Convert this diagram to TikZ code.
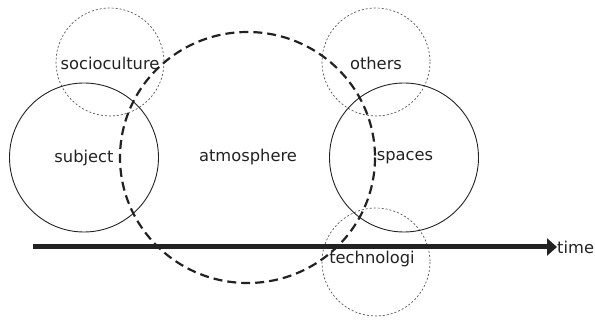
\documentclass[tikz,border=0pt]{standalone}
\usepackage{fontspec}
\setmainfont{DejaVu Sans}
\usetikzlibrary{arrows.meta}
\definecolor{ink}{HTML}{222222}
\definecolor{dotgray}{HTML}{555555}
\begin{document}
\begin{tikzpicture}[x=1pt,y=-1pt,
  lbl/.style={font=\fontsize{16.3}{18}\selectfont, text=ink, inner sep=0pt},
  solidcirc/.style={draw=ink, line width=0.9pt},
  dotcirc/.style={draw=dotgray, line width=0.7pt, dash pattern=on 2pt off 2pt},
  atmo/.style={draw=ink, line width=2.2pt, dash pattern=on 9pt off 5pt},
  timeline/.style={draw=ink, line width=5pt, -{Triangle[length=10pt,width=17pt]}}
]
\useasboundingbox (0,0) rectangle (595,320);
% circles
\draw[dotcirc] (110,62) circle (54);
\draw[dotcirc] (376,62) circle (54);
\draw[dotcirc] (376,262) circle (54);
\draw[solidcirc] (84,157.5) circle (74.5);
\draw[solidcirc] (404,157.5) circle (74.5);
\draw[atmo] (247.5,157.5) ellipse (127.5 and 125.5);
% timeline
\coordinate (tstart) at (33,247);
\node[lbl, anchor=west] (time) at (557,247) {time};
\draw[timeline] (tstart) -- (time.west);
% labels
\node[lbl] (socio) at (110,63) {socioculture};
\node[lbl] (subject) at (84,158) {subject};
\node[lbl] (atmosphere) at (248,157) {atmosphere};
\node[lbl] (others) at (376,63) {others};
\node[lbl] (spaces) at (405,158) {spaces};
\node[lbl] (techno) at (372,259) {technologi};
\end{tikzpicture}
\end{document}
